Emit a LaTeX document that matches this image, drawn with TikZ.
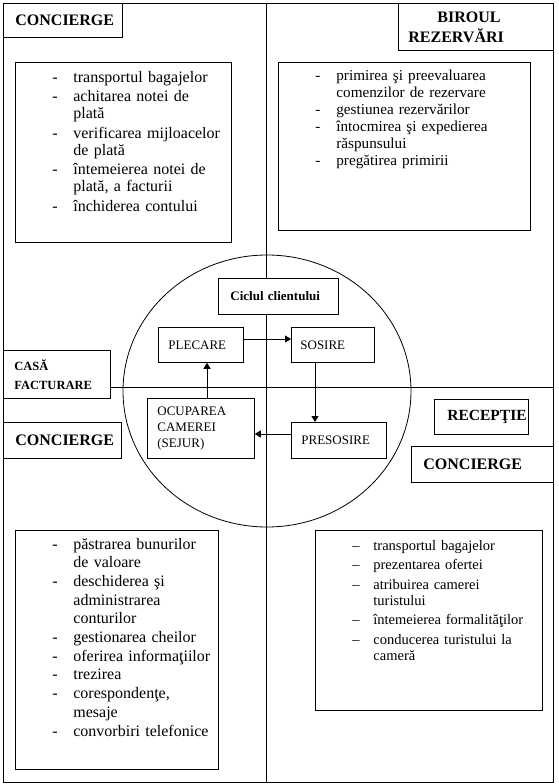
\documentclass[tikz,border=0pt]{standalone}
\usepackage{fontspec}
\setmainfont{Liberation Serif}
\usetikzlibrary{arrows.meta,calc}

\newcommand{\dashitem}[1][-]{\makebox[21pt][l]{#1}\ignorespaces}
\newcommand{\contline}{\hspace*{21pt}}

\begin{document}
\begin{tikzpicture}[x=1pt,y=-1pt,line width=0.8pt,
    box/.style={draw,fill=white,anchor=north west,inner ysep=0pt,align=left},
    head/.style={box,font=\fontsize{16}{20}\selectfont\bfseries},
    cyc/.style={box,font=\fontsize{13}{16}\selectfont},
    listbox/.style={draw,fill=white,anchor=north west,inner sep=0pt},
    listtext/.style={anchor=base west,inner sep=0pt,align=left},
    arr/.style={-{Triangle[length=6pt,width=7pt]}}]
  \useasboundingbox (0,0) rectangle (558,784);

  % frame, the two axes and the circle
  \draw (3,3) rectangle (553,782);
  \draw (266,3) -- (266,782);
  \draw (110,387) -- (553,387);
  \draw (267,391) ellipse [x radius=144pt,y radius=136pt];

  % department labels
  \node[head,text width=95pt,inner xsep=12pt,minimum height=34pt,align=center] (conA) at (3,3) {CONCIERGE};
  \node[head,text width=135pt,inner xsep=10pt,minimum height=47pt] (birou) at (398,3) {\hspace*{29pt}BIROUL\\REZERVĂRI};
  \node[head,font=\fontsize{12.5}{19}\selectfont\bfseries,text width=85pt,inner xsep=11pt,minimum height=48pt] (casa) at (3,350) {CASĂ\\FACTURARE};
  \node[head,text width=94pt,inner xsep=12pt,minimum height=36pt,align=center] (conB) at (3,422) {CONCIERGE};
  \node[head,font=\fontsize{15.5}{18}\selectfont\bfseries,text width=68pt,inner xsep=13pt,minimum height=35pt] (recep) at (434,399) {RECEPŢIE};
  \node[head,text width=118pt,inner xsep=12pt,minimum height=36pt] (conC) at (411,446) {CONCIERGE};

  % client cycle
  \node[cyc,font=\fontsize{13}{16}\selectfont\bfseries,text width=96pt,inner xsep=12pt,minimum height=36pt] (ciclu) at (218,278) {Ciclul clientului};
  \node[cyc,text width=65pt,inner xsep=10pt,minimum height=35pt] (plecare) at (158,327) {PLECARE};
  \node[cyc,text width=65pt,inner xsep=9pt,minimum height=35pt] (sosire) at (291,327) {SOSIRE};
  \node[cyc,text width=87pt,inner xsep=10pt,minimum height=60pt] (ocupare) at (147,398) {OCUPAREA\\CAMEREI\\(SEJUR)};
  \node[cyc,text width=75pt,inner xsep=10pt,minimum height=36pt] (presosire) at (291,422) {PRESOSIRE};

  \coordinate (rowA) at (0,339);
  \coordinate (rowB) at (0,434);
  \coordinate (colA) at (207,0);
  \coordinate (colB) at (315,0);
  \draw[arr] (plecare.east |- rowA) -- (sosire.west |- rowA);
  \draw[arr] (sosire.south -| colB) -- (presosire.north -| colB);
  \draw[arr] (presosire.west |- rowB) -- (ocupare.east |- rowB);
  \draw[arr] (ocupare.north -| colA) -- (plecare.south -| colA);

  % task lists
  \node[listbox,minimum width=216pt,minimum height=180pt] (lstA) at (15,62) {};
  \node[listtext,text width=170pt,font=\fontsize{16}{17}\selectfont] (txtA) at ([xshift=37pt,yshift=-20pt]lstA.north west) {%
    \dashitem transportul bagajelor\\[2.5pt]
    \dashitem achitarea notei de\\
    \contline plată\\[2.5pt]
    \dashitem verificarea mijloacelor\\
    \contline de plată\\[2.5pt]
    \dashitem întemeierea notei de\\
    \contline plată, a facturii\\[2.5pt]
    \dashitem închiderea contului};

  \node[listbox,minimum width=252pt,minimum height=168pt] (lstB) at (278,62) {};
  \node[listtext,text width=180pt,font=\fontsize{15.2}{17}\selectfont] (txtB) at ([xshift=37pt,yshift=-19pt]lstB.north west) {%
    \dashitem primirea şi preevaluarea\\
    \contline comenzilor de rezervare\\
    \dashitem gestiunea rezervărilor\\
    \dashitem întocmirea şi expedierea\\
    \contline răspunsului\\
    \dashitem pregătirea primirii};

  \node[listbox,minimum width=203pt,minimum height=239pt] (lstC) at (15,530) {};
  \node[listtext,text width=164pt,font=\fontsize{16}{18.7}\selectfont] (txtC) at ([xshift=37pt,yshift=-19pt]lstC.north west) {%
    \dashitem păstrarea bunurilor\\
    \contline de valoare\\
    \dashitem deschiderea şi\\
    \contline administrarea\\
    \contline conturilor\\
    \dashitem gestionarea cheilor\\
    \dashitem oferirea informaţiilor\\
    \dashitem trezirea\\
    \dashitem corespondenţe,\\
    \contline mesaje\\
    \dashitem convorbiri telefonice};

  \node[listbox,minimum width=227pt,minimum height=180pt] (lstD) at (315,530) {};
  \node[listtext,text width=180pt,font=\fontsize{14.5}{16}\selectfont] (txtD) at ([xshift=37pt,yshift=-20pt]lstD.north west) {%
    \dashitem[–] transportul bagajelor\\[3.5pt]
    \dashitem[–] prezentarea ofertei\\[3.5pt]
    \dashitem[–] atribuirea camerei\\
    \contline turistului\\[3.5pt]
    \dashitem[–] întemeierea formalităţilor\\[3.5pt]
    \dashitem[–] conducerea turistului la\\
    \contline cameră};
\end{tikzpicture}
\end{document}
